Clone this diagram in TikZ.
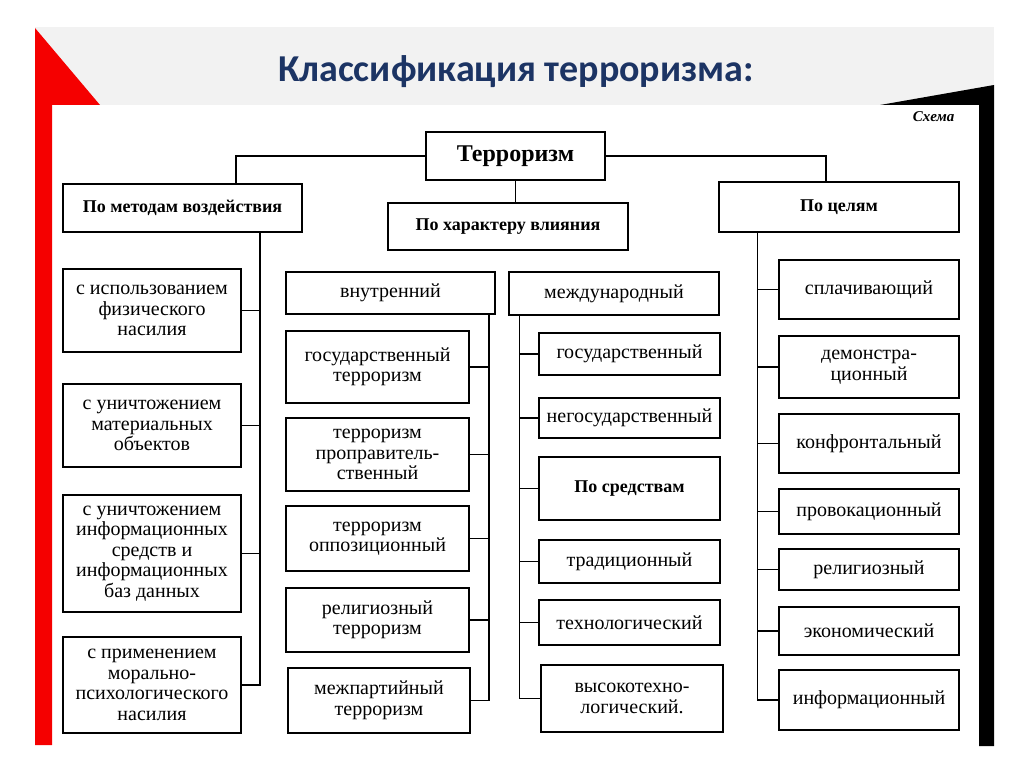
\documentclass[tikz,border=0pt]{standalone}
\usepackage{fontspec}
\setmainfont{Liberation Serif}
\newfontfamily\titlefont{Carlito}
\usetikzlibrary{calc}
\definecolor{navy}{RGB}{28,52,100}
\definecolor{band}{RGB}{242,242,242}
\definecolor{redbar}{RGB}{245,0,0}
\tikzset{
  box/.style={draw=black, line width=1.6pt, fill=white, inner sep=0pt, align=center,
    font=\fontsize{20}{20.5}\selectfont},
  bbox/.style={box, font=\fontsize{18}{20}\selectfont\bfseries},
  conn/.style={draw=black, line width=1.4pt},
  titletext/.style={font=\titlefont\fontsize{38}{40}\selectfont\bfseries},
}
\newcommand\bx[7][]{\node[box,#1,minimum width={#5-#3},minimum height={#6-#4}] (#2) at ({(#3+#5)/2},{(#4+#6)/2}) {#7};}
\begin{document}
\begin{tikzpicture}[x=1pt,y=-1pt]
\useasboundingbox (0,0) rectangle (1024,767);
% background
\fill[band] (35,27) rectangle (994,105);
\fill[redbar] (35,28) -- (100,105) -- (52,105) -- (52,745) -- (35,745) -- cycle;
\fill[black] (880,105) -- (994,85) -- (994,746) -- (979,746) -- (979,105) -- cycle;
% title
\node[titletext, text=navy] (title) at (516,72) {Классификация терроризма:};
\node[anchor=east, font=\fontsize{15}{15}\selectfont\itshape\bfseries] (schema) at (958,117) {Схема};
% top level
\bx[font=\fontsize{24}{24}\selectfont\bfseries]{t}{426}{132}{605}{180}{Терроризм}
\bx[bbox]{m}{63}{184}{302}{232}{По методам воздействия}
\bx[bbox]{h}{388}{203}{628}{250}{По характеру влияния}
\bx[bbox]{g}{719}{182}{959}{232}{По целям}
% left column
\bx{m1}{63}{269}{241}{352}{с использованием\\физического\\насилия}
\bx{m2}{63}{384}{241}{467}{с уничтожением\\материальных\\объектов}
\bx{m3}{63}{495}{241}{612}{с уничтожением\\информационных\\средств и\\информационных\\баз данных}
\bx{m4}{63}{637}{241}{733}{с применением\\морально-\\психологического\\насилия}
% internal
\bx{v}{286}{272}{495}{314}{внутренний}
\bx{v1}{286}{331}{469}{403}{государственный\\терроризм}
\bx{v2}{286}{418}{469}{491}{терроризм\\проправитель-\\ственный}
\bx{v3}{286}{506}{469}{571}{терроризм\\оппозиционный}
\bx{v4}{286}{588}{469}{652}{религиозный\\терроризм}
\bx{v5}{288}{668}{470}{733}{межпартийный\\терроризм}
% international
\bx{i}{509}{272}{719}{315}{международный}
\bx{i1}{539}{333}{720}{375}{государственный}
\bx{i2}{539}{398}{720}{438}{негосударственный}
\bx[bbox]{i3}{539}{457}{720}{520}{По средствам}
\bx{i4}{539}{540}{720}{583}{традиционный}
\bx{i5}{539}{600}{720}{645}{технологический}
\bx{i6}{541}{665}{723}{732}{высокотехно-\\логический.}
% goals
\bx{g1}{779}{260}{959}{319}{сплачивающий}
\bx{g2}{779}{336}{959}{398}{демонстра-\\ционный}
\bx{g3}{779}{414}{959}{473}{конфронтальный}
\bx{g4}{779}{489}{959}{534}{провокационный}
\bx{g5}{779}{549}{959}{590}{религиозный}
\bx{g6}{779}{607}{959}{655}{экономический}
\bx{g7}{779}{670}{959}{730}{информационный}
% connectors from root
\draw[conn] (t.west) -| ([xshift=53.5pt]m.north);
\draw[conn] (t.east) -| ([xshift=-13pt]g.north);
\draw[conn] (t.south) -- (t.south |- h.north);
% spines
\coordinate (ls) at ([xshift=77.5pt]m.south);
\coordinate (vs) at ([xshift=-7pt]v.south east);
\coordinate (is) at ([xshift=11pt]i.south west);
\coordinate (gs) at ([xshift=39pt]g.south west);
\draw[conn] (ls) |- (m4.east);
\foreach \k in {1,2,3} \draw[conn] (m\k.east) -- (m\k.east -| ls);
\draw[conn] (vs) |- (v5.east);
\foreach \k in {1,2,3,4} \draw[conn] (v\k.east) -- (v\k.east -| vs);
\draw[conn] (is) |- (i6.west);
\foreach \k in {1,2,3,4,5} \draw[conn] (i\k.west) -- (i\k.west -| is);
\draw[conn] (gs) |- (g7.west);
\foreach \k in {1,2,3,4,5,6} \draw[conn] (g\k.west) -- (g\k.west -| gs);
\end{tikzpicture}
\end{document}
